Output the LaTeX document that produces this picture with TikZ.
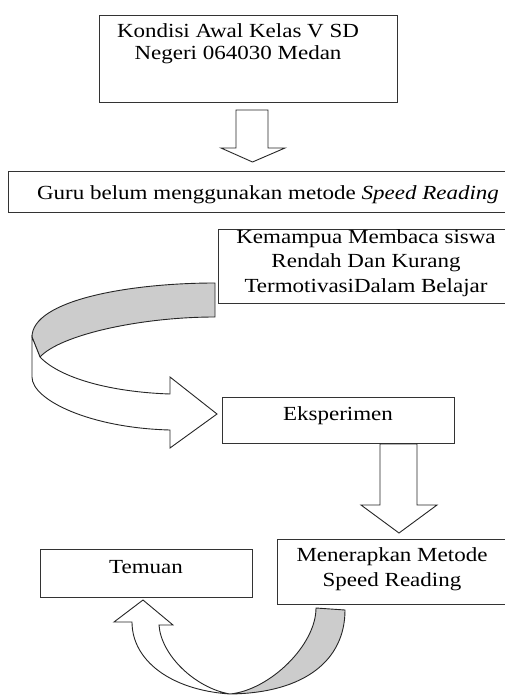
\documentclass[tikz,border=0pt]{standalone}
\usepackage{fontspec}
\setmainfont{Liberation Serif}[FakeStretch=1.15]
\definecolor{ribbon}{RGB}{204,204,204}
\begin{document}
\begin{tikzpicture}[x=1pt,y=-1pt,
        box/.style={draw=black!80,line width=1pt,anchor=north west,inner sep=0pt},
        txt/.style={inner sep=0pt,align=center,font=\fontsize{20}{24.5}\selectfont},
        blockarrow/.style={draw=black!85,line width=0.9pt,fill=white,line join=miter},
        twist/.style={blockarrow,fill=ribbon}]
        \useasboundingbox (0,0) rectangle (504,695);

        \node[box,minimum width=298pt,minimum height=87pt] (kondisi) at (99,15) {};
        \node[txt,font=\fontsize{20}{21.6}\selectfont] (kondisitxt) at (238,44) {Kondisi Awal Kelas V SD\\Negeri 064030 Medan};

        \node[box,minimum width=502pt,minimum height=41pt] (guru) at (8,171) {};
        \node[txt,anchor=base] (gurutxt) at (268,199) {Guru belum menggunakan metode \textit{Speed Reading}};

        \node[box,minimum width=292pt,minimum height=74pt] (kemampuan) at (218,229) {};
        \node[txt] (kemampuantxt) at (366,263) {Kemampua Membaca siswa\\Rendah Dan Kurang\\TermotivasiDalam Belajar};

        \node[box,minimum width=232pt,minimum height=46pt] (eksperimen) at (222,397) {};
        \node[txt,anchor=base] (eksperimentxt) at (338,420) {Eksperimen};

        \node[box,minimum width=233pt,minimum height=65pt] (menerapkan) at (277,539) {};
        \node[txt] (menerapkantxt) at (392,569) {Menerapkan Metode\\Speed Reading};

        \node[box,minimum width=212pt,minimum height=48pt] (temuan) at (40,549) {};
        \node[txt,anchor=base] (temuantxt) at (146,573) {Temuan};

        % down arrows
        \draw[blockarrow] (236,110) -- (268,110) -- (268,148) -- (285,148) -- (252.5,162)
            -- (221,148) -- (236,148) -- cycle;
        \draw[blockarrow] (eksperimen.south -| 380,0) -- (eksperimen.south -| 417,0) -- (417,505)
            -- (437,505) -- (399,533) -- (361,505) -- (380,505) -- cycle;

        % curved arrow to Eksperimen
        \draw[twist] (215,283) .. controls (130,283) and (32,300) .. (32,337)
            -- (40,357) .. controls (60,335) and (140,317) .. (215,317) -- cycle;
        \draw[blockarrow] (32,337) -- (32,377) .. controls (32,400) and (90,428) .. (170,430)
            -- (170,448) -- (217,414) -- (170,377) -- (170,394)
            .. controls (110,392) and (60,378) .. (40,357) -- cycle;

        % curved arrow to Temuan
        \draw[twist] (316,608) -- (345,610) .. controls (345,660) and (305,693) .. (230,694)
            .. controls (270,690) and (316,645) .. (316,608) -- cycle;
        \draw[blockarrow] (230,694) .. controls (170,690) and (132,660) .. (132,622)
            -- (114,622) -- (143,600) -- (173,625) -- (159,625)
            .. controls (161,655) and (195,688) .. (230,694) -- cycle;
    \end{tikzpicture}
\end{document}
